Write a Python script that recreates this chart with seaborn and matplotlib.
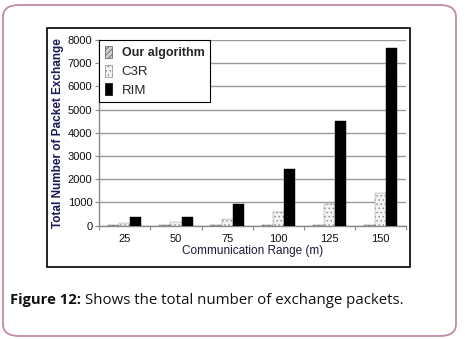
import matplotlib
matplotlib.use("Agg")
import matplotlib.pyplot as plt
import seaborn as sns
import pandas as pd
from matplotlib.patches import FancyBboxPatch, Rectangle

categories = ["25", "50", "75", "100", "125", "150"]
series_names = ["Our algorithm", "C3R", "RIM"]
our_algorithm = [40, 40, 40, 40, 40, 40]
c3r = [110, 160, 290, 590, 930, 1390]
rim = [370, 370, 920, 2430, 4500, 7670]
y_ticks = [0, 1000, 2000, 3000, 4000, 5000, 6000, 7000, 8000]

rows = []
for name, vals in zip(series_names, [our_algorithm, c3r, rim]):
    for c, v in zip(categories, vals):
        rows.append({"range": c, "series": name, "value": v})
df = pd.DataFrame(rows)

sns.set_theme(style="white")
plt.rcParams['font.family'] = ['Liberation Sans', 'DejaVu Sans']
plt.rcParams['hatch.linewidth'] = 0.5

fig = plt.figure(figsize=(4.65, 3.39), dpi=100)
W, H = 465, 339

# outer rounded border
fig.patches.append(FancyBboxPatch((3 / W, 3 / H), 453 / W, 331 / H,
                                  boxstyle="round,pad=0,rounding_size=0.035",
                                  transform=fig.transFigure, facecolor="white",
                                  edgecolor="#c08aa8", linewidth=1.3, zorder=-2))
# inner chart frame
fig.patches.append(Rectangle((46.7 / W, 1 - 266.7 / H), (410 - 46.7) / W, (266.7 - 27.7) / H,
                             transform=fig.transFigure, facecolor="white",
                             edgecolor="black", linewidth=1.2, zorder=-1))

ax = fig.add_axes([99.3 / W, 1 - 225.7 / H, (406 - 99.3) / W, (225.7 - 40) / H])
ax.set_zorder(1)
ax.set_facecolor("white")
palette = {"Our algorithm": "#d0d0d0", "C3R": "#f2f2f2", "RIM": "black"}
sns.barplot(data=df, x="range", y="value", hue="series", order=categories,
            hue_order=series_names, palette=palette, width=0.65, ax=ax,
            edgecolor="black", linewidth=0.3, saturation=1, zorder=3)

hatches = {"Our algorithm": "//////", "C3R": "....", "RIM": ""}
edges = {"Our algorithm": "#555555", "C3R": "#888888", "RIM": "black"}
for cont, name in zip(ax.containers, series_names):
    for bar in cont:
        bar.set_hatch(hatches[name])
        bar.set_edgecolor(edges[name])

ax.set_ylim(0, 8000)
ax.set_xlim(-0.5, 5.5)
ax.set_yticks(y_ticks)
ax.set_yticklabels([str(t) for t in y_ticks], fontsize=8, color="#111111")
ax.yaxis.grid(True, color="#9a9a9a", linewidth=1.0, zorder=0)
ax.set_axisbelow(True)
ax.tick_params(axis="y", which="major", length=3, width=0.8, color="#8a8a8a", pad=2, left=True)
ax.tick_params(axis="x", which="major", length=0, labelsize=8, pad=6, labelcolor="#111111")
ax.set_xticks([i + 0.5 for i in range(-1, 6)], minor=True)
ax.tick_params(axis="x", which="minor", length=3, width=0.8, color="#8a8a8a", bottom=True)
for s in ["top", "right"]:
    ax.spines[s].set_visible(False)
for s in ["left", "bottom"]:
    ax.spines[s].set_color("#8a8a8a")
    ax.spines[s].set_linewidth(1.0)

ax.set_xlabel("Communication Range (m)", fontsize=8.5, color="#1a1a3a", labelpad=1)
ax.set_ylabel("Total Number of Packet Exchange", fontsize=8.5, color="#1a1a55",
              fontweight="bold", labelpad=3)

leg = ax.legend(loc="upper left", bbox_to_anchor=(0.0, 1.0), fontsize=9,
                frameon=True, fancybox=False, edgecolor="black", framealpha=1,
                handlelength=0.55, handleheight=1.1, handletextpad=0.8,
                borderpad=0.45, labelspacing=0.45, borderaxespad=0)
leg.get_frame().set_linewidth(0.8)
leg.set_zorder(5)
for h, name in zip(leg.legend_handles, series_names):
    h.set_hatch(hatches[name])
    h.set_edgecolor(edges[name])
    h.set_linewidth(0.5)
for t in leg.get_texts():
    if t.get_text() == "Our algorithm":
        t.set_fontweight("bold")
    else:
        t.set_family(["Liberation Sans Narrow", "Liberation Sans", "DejaVu Sans"])
        t.set_fontsize(9.5)

fig.text(10 / W, 1 - 300 / H, "Figure 12:", fontsize=10.6, fontweight="bold",
         family=["Open Sans", "DejaVu Sans"], va="center", ha="left", color="#111111")
fig.text(85 / W, 1 - 300 / H, "Shows the total number of exchange packets.", fontsize=10.8,
         family=["Open Sans", "DejaVu Sans"], va="center", ha="left", color="#111111")

fig.savefig("out.png", dpi=100)
